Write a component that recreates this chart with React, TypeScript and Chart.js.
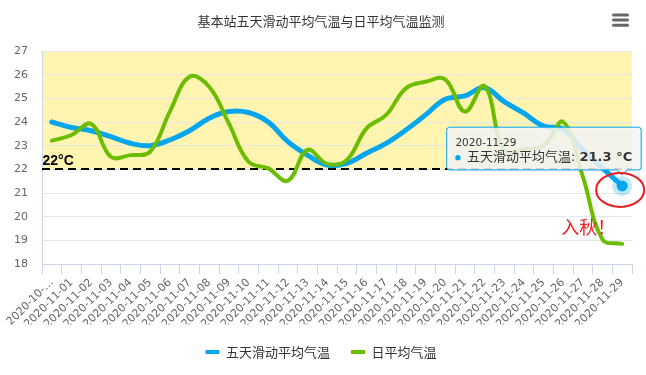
import React, { useEffect, useRef } from 'react';
import { Chart, registerables } from 'chart.js';

Chart.register(...registerables);

const TITLE = '基本站五天滑动平均气温与日平均气温监测';
const SERIES_NAMES = ['五天滑动平均气温', '日平均气温'];
const categories = [
  '2020-10-31', '2020-11-01', '2020-11-02', '2020-11-03', '2020-11-04', '2020-11-05',
  '2020-11-06', '2020-11-07', '2020-11-08', '2020-11-09', '2020-11-10', '2020-11-11',
  '2020-11-12', '2020-11-13', '2020-11-14', '2020-11-15', '2020-11-16', '2020-11-17',
  '2020-11-18', '2020-11-19', '2020-11-20', '2020-11-21', '2020-11-22', '2020-11-23',
  '2020-11-24', '2020-11-25', '2020-11-26', '2020-11-27', '2020-11-28', '2020-11-29',
];
const movingAvg = [
  24.0, 23.77, 23.63, 23.38, 23.1, 23.0, 23.24, 23.63, 24.16, 24.44,
  24.4, 24.0, 23.17, 22.6, 22.18, 22.25, 22.68, 23.1, 23.66, 24.3,
  24.96, 25.1, 25.45, 24.86, 24.37, 23.83, 23.69, 22.82, 22.05, 21.3,
];
const dailyAvg = [
  23.21, 23.45, 23.92, 22.53, 22.6, 22.75, 24.44, 25.91, 25.49, 23.94,
  22.32, 22.04, 21.52, 22.82, 22.23, 22.4, 23.73, 24.3, 25.42, 25.7,
  25.8, 24.44, 25.52, 22.8, 22.85, 23.0, 24.0, 21.69, 19.04, 18.85,
];
const Y_MIN = 18;
const Y_MAX = 27;
const THRESHOLD = 22;
const THRESHOLD_LABEL = '22°C';
const ANNOTATION_TEXT = '入秋！';
const UNIT = '°C';

const BLUE = '#05a6ee';
const GREEN = '#6cbd00';
const FONT = '"DejaVu Sans", "Noto Sans CJK SC", sans-serif';
const CJK = '"Noto Sans CJK SC", "DejaVu Sans", sans-serif';

const bandPlugin = {
  id: 'band',
  beforeDraw(chart: any) {
    const { ctx, chartArea: a, scales } = chart;
    const y = scales.y;
    const top = y.getPixelForValue(Y_MAX);
    const bottom = y.getPixelForValue(THRESHOLD);
    ctx.save();
    ctx.fillStyle = '#fff5b0';
    ctx.fillRect(a.left, top, a.right - a.left, bottom - top);
    ctx.restore();
  },
};

const thresholdPlugin = {
  id: 'threshold',
  beforeDatasetsDraw(chart: any) {
    const { ctx, chartArea: a, scales } = chart;
    const yp = Math.round(scales.y.getPixelForValue(THRESHOLD));
    ctx.save();
    ctx.strokeStyle = '#000';
    ctx.lineWidth = 2;
    ctx.setLineDash([8, 5]);
    ctx.beginPath();
    ctx.moveTo(a.left, yp);
    ctx.lineTo(a.right, yp);
    ctx.stroke();
    ctx.setLineDash([]);
    ctx.fillStyle = '#000';
    ctx.font = 'bold 14px "Liberation Sans", Arial, sans-serif';
    ctx.textAlign = 'left';
    ctx.textBaseline = 'alphabetic';
    ctx.fillText(THRESHOLD_LABEL, a.left + 0.5, yp - 4);
    ctx.restore();
  },
};

const overlayPlugin = {
  id: 'overlay',
  afterDraw(chart: any) {
    const { ctx } = chart;
    const last = movingAvg.length - 1;
    const pt = chart.getDatasetMeta(0).data[last];
    const px = pt.x;
    const py = pt.y;
    ctx.save();
    // halo + marker
    ctx.fillStyle = 'rgba(5,166,238,0.25)';
    ctx.beginPath();
    ctx.arc(px, py, 10, 0, Math.PI * 2);
    ctx.fill();
    ctx.fillStyle = BLUE;
    ctx.beginPath();
    ctx.arc(px, py, 5.5, 0, Math.PI * 2);
    ctx.fill();

    // tooltip
    const name = SERIES_NAMES[0] + ': ';
    const val = movingAvg[last].toFixed(1) + ' ' + UNIT;
    ctx.font = '13px ' + FONT;
    const wName = ctx.measureText(name).width;
    ctx.font = 'bold 13px ' + FONT;
    const wVal = ctx.measureText(val).width;
    const w = 8.5 + 11.8 + wName + wVal + 9;
    const h = 42.7;
    const right = px + 19;
    const bottom = py - 16;
    const left = right - w;
    const top = bottom - h;
    const r = 3;
    ctx.shadowColor = 'rgba(0,0,0,0.12)';
    ctx.shadowBlur = 3;
    ctx.shadowOffsetX = 1;
    ctx.shadowOffsetY = 1;
    ctx.beginPath();
    ctx.moveTo(left + r, top);
    ctx.lineTo(right - r, top);
    ctx.arcTo(right, top, right, top + r, r);
    ctx.lineTo(right, bottom - r);
    ctx.arcTo(right, bottom, right - r, bottom, r);
    ctx.lineTo(px + 5, bottom);
    ctx.lineTo(px, bottom + 5);
    ctx.lineTo(px - 5, bottom);
    ctx.lineTo(left + r, bottom);
    ctx.arcTo(left, bottom, left, bottom - r, r);
    ctx.lineTo(left, top + r);
    ctx.arcTo(left, top, left + r, top, r);
    ctx.closePath();
    ctx.fillStyle = 'rgba(247,247,247,0.85)';
    ctx.fill();
    ctx.shadowColor = 'transparent';
    ctx.strokeStyle = BLUE;
    ctx.lineWidth = 1;
    ctx.stroke();

    ctx.fillStyle = '#333';
    ctx.textAlign = 'left';
    ctx.textBaseline = 'middle';
    ctx.font = '10.5px ' + FONT;
    ctx.fillText(categories[last], left + 8.7, top + 16);
    ctx.fillStyle = BLUE;
    ctx.beginPath();
    ctx.arc(left + 11.2, top + 30.5, 2.7, 0, Math.PI * 2);
    ctx.fill();
    ctx.fillStyle = '#333';
    ctx.font = '13px ' + FONT;
    ctx.fillText(name, left + 20.3, top + 30);
    ctx.font = 'bold 13px ' + FONT;
    ctx.fillText(val, left + 20.3 + wName, top + 30);

    // annotation ellipse and text
    ctx.strokeStyle = '#ee1d23';
    ctx.lineWidth = 2;
    ctx.beginPath();
    ctx.ellipse(px - 2, py + 4, 24, 17, 0, 0, Math.PI * 2);
    ctx.stroke();
    ctx.fillStyle = '#ee1d23';
    ctx.font = '18px ' + CJK;
    ctx.textBaseline = 'middle';
    ctx.fillText(ANNOTATION_TEXT, px - 61, py + 41);

    // menu icon
    ctx.strokeStyle = '#666';
    ctx.lineWidth = 3;
    ctx.lineCap = 'round';
    [15, 20, 25.3].forEach((yy) => {
      ctx.beginPath();
      ctx.moveTo(613.5, yy);
      ctx.lineTo(627.5, yy);
      ctx.stroke();
    });
    ctx.restore();
  },
};

export default function App() {
  const ref = useRef<HTMLCanvasElement>(null);
  useEffect(() => {
    document.body.style.margin = '0';
    const chart = new Chart(ref.current as HTMLCanvasElement, {
      type: 'line',
      data: {
        labels: categories,
        datasets: [
          {
            label: SERIES_NAMES[0],
            data: movingAvg,
            borderColor: BLUE,
            backgroundColor: BLUE,
            borderWidth: 5,
            pointRadius: 0,
            tension: 0.4,
            borderCapStyle: 'round',
            borderJoinStyle: 'round',
            order: 1,
          },
          {
            label: SERIES_NAMES[1],
            data: dailyAvg,
            borderColor: GREEN,
            backgroundColor: GREEN,
            borderWidth: 4,
            pointRadius: 0,
            tension: 0.4,
            borderCapStyle: 'round',
            borderJoinStyle: 'round',
            order: 0,
          },
        ],
      },
      options: {
        responsive: false,
        animation: false,
        devicePixelRatio: 1,
        events: [],
        layout: { padding: { left: 0, right: 4, top: 0, bottom: 6.5 } },
        scales: {
          x: {
            offset: true,
            grid: {
              offset: true,
              drawOnChartArea: false,
              drawTicks: true,
              tickLength: 10,
              color: '#ccd6eb',
            },
            border: { display: true, color: '#ccd6eb' },
            ticks: {
              autoSkip: false,
              minRotation: 45,
              maxRotation: 45,
              padding: 2,
              color: '#666',
              font: { size: 11, family: FONT },
              callback: (_v: any, i: number) => (i === 0 ? categories[0].slice(0, 8) + '…' : categories[i]),
            },
            afterFit: (s: any) => { s.height = 60.5; },
          },
          y: {
            min: Y_MIN,
            max: Y_MAX,
            grid: { color: '#e6e6e6', drawTicks: false },
            border: { display: true, color: '#ccd6eb' },
            ticks: {
              stepSize: 1,
              padding: 14,
              color: '#666',
              font: { size: 11, family: FONT },
            },
            afterFit: (s: any) => { s.width = 42; },
          },
          yRight: {
            position: 'right',
            display: true,
            min: Y_MIN,
            max: Y_MAX,
            grid: { display: false, drawTicks: false },
            border: { display: false },
            ticks: { display: false },
            afterFit: (s: any) => { s.width = 10; },
          },
        },
        plugins: {
          title: {
            display: true,
            text: TITLE,
            color: '#333',
            font: { size: 13, family: CJK, weight: 'normal' },
            padding: { top: 13, bottom: 22.4 },
          },
          legend: {
            position: 'bottom',
            labels: {
              boxWidth: 14,
              boxHeight: 4,
              padding: 21,
              color: '#333',
              font: { size: 13, family: CJK },
              generateLabels: (c: any) =>
                c.data.datasets.map((d: any, i: number) => ({
                  text: d.label,
                  fillStyle: d.borderColor,
                  strokeStyle: d.borderColor,
                  lineWidth: 0,
                  hidden: false,
                  datasetIndex: i,
                  fontColor: '#333',
                })),
            },
          },
          tooltip: { enabled: false },
        },
      },
      plugins: [bandPlugin, thresholdPlugin, overlayPlugin],
    } as any);
    return () => chart.destroy();
  }, []);
  return (
    <div style={{ width: 646, height: 375 }}>
      <canvas ref={ref} width={646} height={375} style={{ display: 'block' }} />
    </div>
  );
}
